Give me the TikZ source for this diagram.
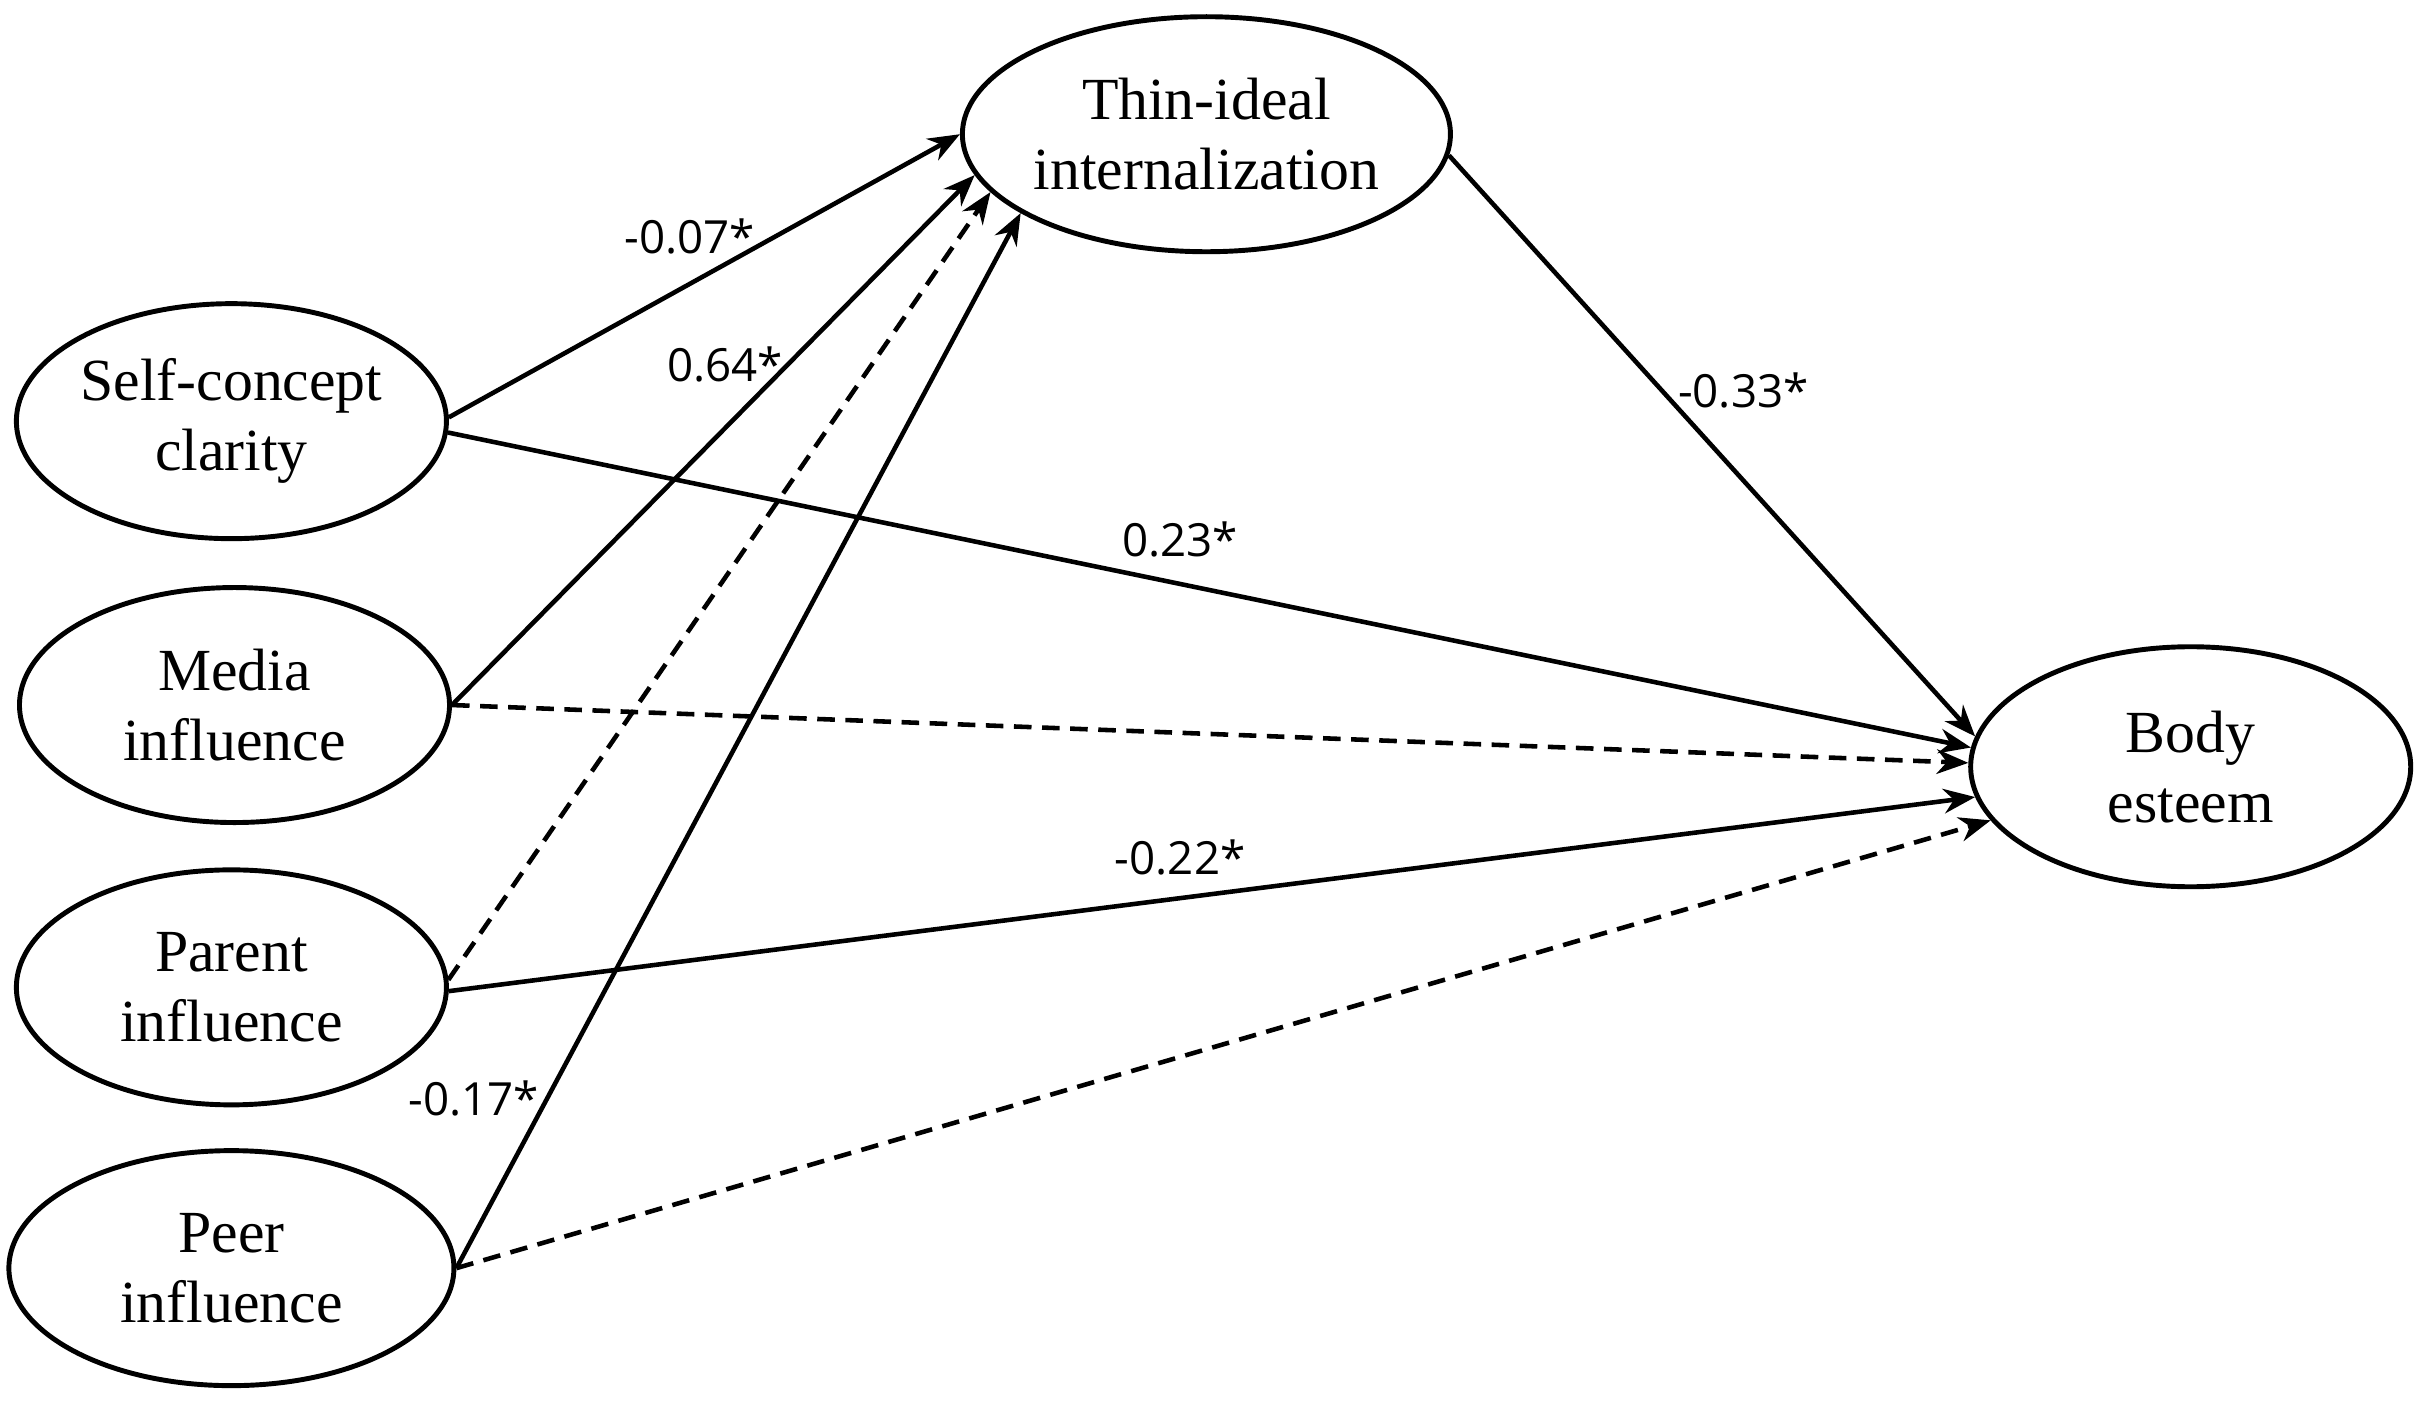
\documentclass[tikz,border=0pt]{standalone}
\usepackage{fontspec}
\setmainfont{Liberation Serif}
\newfontfamily\lab{Open Sans}
\usetikzlibrary{shapes.geometric,arrows.meta}
\begin{document}
\begin{tikzpicture}[x=0.01543cm,y=-0.01543cm,
  el/.style={ellipse,draw,line width=1.4pt,minimum width=4.3cm,minimum height=2.35cm,inner sep=0pt,align=center,font=\fontsize{17}{20}\selectfont},
  ar/.style={line width=1.3pt,-{Stealth[length=9pt,width=7pt]}},
  da/.style={ar,dash pattern=on 5pt off 3pt},
  lb/.style={font=\lab\fontsize{13}{15}\selectfont}]
\useasboundingbox (0,0) rectangle (1568,919);
\node[el] (sc) at (150,273) {Self-concept\\clarity};
\node[el] (me) at (152,457) {Media\\influence};
\node[el] (pa) at (150,640) {Parent\\influence};
\node[el,minimum width=4.45cm] (pe) at (150,822) {Peer\\influence};
\node[el] (th) at (782,87) {Thin-ideal\\internalization};
\node[el,minimum width=4.4cm,minimum height=2.4cm] (be) at (1420,497) {Body\\esteem};
\draw[ar] (sc.1) -- (th.180);
\draw[ar] (me.0) -- (th.190);
\draw[da] (pa.2) -- (th.195);
\draw[ar] (pe.0) -- (th.203);
\draw[ar] (th.-5) -- (be.172);
\draw[ar] (sc.-3) -- (be.175);
\draw[da] (me.0) -- (be.179);
\draw[ar] (pa.-1) -- (be.188);
\draw[da] (pe.0) -- (be.195);
\node[lb] (l1) at (447,153) {-0.07*};
\node[lb] (l2) at (470,236) {0.64*};
\node[lb] (l3) at (1130,253) {-0.33*};
\node[lb] (l4) at (765,350) {0.23*};
\node[lb] (l5) at (765,556) {-0.22*};
\node[lb] (l6) at (307,712) {-0.17*};
\end{tikzpicture}
\end{document}
